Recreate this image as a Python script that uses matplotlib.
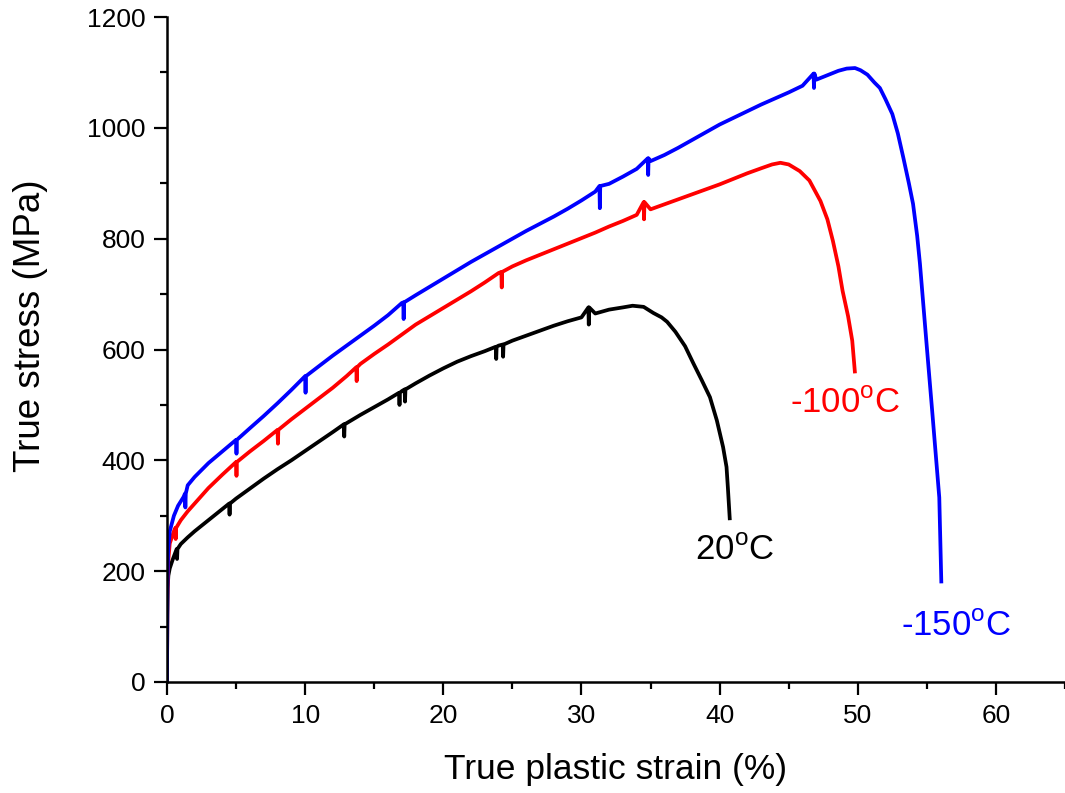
import matplotlib
matplotlib.use("Agg")
import matplotlib.pyplot as plt
from matplotlib.ticker import MultipleLocator

plt.rcParams['font.family'] = ['Liberation Sans', 'DejaVu Sans']
plt.rcParams['mathtext.fontset'] = 'custom'
plt.rcParams['mathtext.rm'] = 'Liberation Sans'

# True stress-strain curves (strain in %, stress in MPa)
strain_20 = [0, 0.02, 0.05, 0.1, 0.2, 0.4, 0.7, 1, 1.5, 2, 2.5, 3, 3.5, 4, 4.5, 5, 6,
             7, 8, 9, 10, 11, 12, 12.8, 14, 15, 16, 17, 18, 19, 20, 21, 22, 23, 24,
             25, 26, 27, 28, 29, 30, 31, 32, 33, 33.7, 34.5, 35.2, 35.8, 36.2, 36.8,
             37.5, 38.1, 38.7, 39.3, 39.8, 40.25, 40.5, 40.6, 40.74]
stress_20 = [0, 120, 170, 192, 205, 220, 240, 249, 261, 272, 282, 292, 302, 312, 322,
             331, 349, 367, 384, 400, 417, 434, 451, 465, 482, 496, 510, 525, 539, 553,
             566, 578, 588, 597, 607, 616, 625, 634, 643, 651, 658, 665, 672, 676, 679,
             677, 666, 658, 650, 632, 606, 575, 545, 514, 472, 424, 388, 350, 292]

strain_m100 = [0, 0.03, 0.08, 0.2, 0.5, 1, 1.5, 2, 3, 4, 5, 6, 7, 8, 9, 10, 11, 12,
               13, 14, 15, 16, 17, 18, 19, 20, 21, 22, 23, 24, 25, 26, 27, 28, 29, 30,
               31, 32, 33, 34, 35, 36, 37, 38, 39, 40, 41, 42, 43, 43.8, 44.4, 45,
               45.8, 46.5, 47.3, 47.8, 48.2, 48.6, 48.9, 49.3, 49.6, 49.8]
stress_m100 = [0, 150, 215, 250, 272, 292, 308, 322, 350, 374, 397, 416, 435, 455, 474,
               493, 512, 531, 552, 574, 592, 609, 627, 645, 660, 675, 690, 705, 721,
               738, 750, 761, 771, 781, 791, 801, 811, 822, 832, 843, 853, 862, 871,
               880, 889, 898, 908, 918, 927, 934, 937, 934, 922, 905, 868, 835, 796,
               750, 706, 660, 616, 557]

strain_m150 = [0, 0.03, 0.08, 0.2, 0.5, 0.8, 1.2, 1.5, 2, 3, 4, 5, 6, 7, 8, 9, 10, 11,
               12, 13, 14, 15, 16, 17, 18, 19, 20, 21, 22, 23, 24, 25, 26, 27, 28, 29,
               30, 31, 32, 33, 34, 35, 36, 37, 38, 39, 40, 41, 42, 43, 44, 45, 46, 47,
               48, 48.6, 49.2, 49.8, 50.2, 50.7, 51.2, 51.6, 52, 52.5, 52.9, 53.3, 53.7,
               54.0, 54.3, 54.5, 55.0, 55.4, 55.9, 56.05]
stress_m150 = [0, 170, 235, 272, 300, 318, 334, 355, 370, 395, 416, 437, 458, 480, 503,
               527, 552, 570, 589, 607, 625, 643, 662, 684, 698, 713, 728, 743, 758,
               772, 786, 800, 814, 827, 840, 854, 869, 885, 899, 912, 926, 940, 951,
               964, 978, 992, 1006, 1018, 1030, 1042, 1053, 1064, 1076, 1087, 1097,
               1103, 1107, 1108, 1104, 1096, 1082, 1072, 1052, 1025, 990, 946, 900,
               863, 805, 755, 604, 485, 333, 178]

# Serrations: (strain, upper stress, lower stress)
serr_20 = [(0.7, 240, 222), (4.5, 322, 302), (12.8, 465, 443), (16.8, 522, 500),
           (17.2, 528, 506), (23.8, 605, 583), (24.3, 609, 587), (30.5, 676, 645)]
serr_m100 = [(0.6, 278, 258), (5.0, 397, 372), (8.0, 455, 430), (13.7, 568, 543),
             (24.2, 740, 712), (34.5, 866, 835)]
serr_m150 = [(1.3, 340, 315), (5.0, 437, 412), (10.0, 552, 522), (17.1, 685, 655),
             (31.3, 895, 855), (34.8, 945, 915), (46.8, 1098, 1072)]

labels = ['20$^{\\rm o}$C', '-100$^{\\rm o}$C', '-150$^{\\rm o}$C']
colors = ['black', '#ff0000', '#0000ff']
label_pos = [(41.1, 238), (49.1, 502), (57.1, 101)]


def with_serrations(xs, ys, serr):
    pts = list(zip(xs, ys))
    for x, hi, lo in serr:
        pts += [(x, hi), (x + 0.03, lo), (x + 0.06, hi)]
    pts.sort(key=lambda p: p[0])
    return [p[0] for p in pts], [p[1] for p in pts]


fig = plt.figure(figsize=(10.65, 7.93), dpi=100)
ax = fig.add_axes([0.1568, 0.140, 0.8432, 0.8385])

curves = [(strain_20, stress_20, serr_20), (strain_m100, stress_m100, serr_m100),
          (strain_m150, stress_m150, serr_m150)]
for (xs, ys, serr), c in zip(curves, colors):
    x, y = with_serrations(xs, ys, serr)
    ax.plot(x, y, color=c, lw=2.7, solid_joinstyle='round', solid_capstyle='butt')

for lab, c, (lx, ly) in zip(labels, colors, label_pos):
    ax.text(lx, ly, lab, color=c, fontsize=25, ha='center', va='center')

ax.set_xlim(0, 65)
ax.set_ylim(0, 1200)
ax.xaxis.set_major_locator(MultipleLocator(10))
ax.xaxis.set_minor_locator(MultipleLocator(5))
ax.yaxis.set_major_locator(MultipleLocator(200))
ax.yaxis.set_minor_locator(MultipleLocator(100))

for s in ['top', 'right']:
    ax.spines[s].set_visible(False)
for s in ['left', 'bottom']:
    ax.spines[s].set_linewidth(1.8)

ax.tick_params(which='major', direction='out', length=9.5, width=1.6, labelsize=19, pad=6)
ax.tick_params(which='minor', direction='out', length=5, width=1.6)

ax.set_xlabel('True plastic strain (%)', fontsize=25.5, labelpad=18)
ax.set_ylabel('True stress (MPa)', fontsize=26.5)
ax.yaxis.set_label_coords(-0.133, 0.535)

fig.savefig('out.png', dpi=100)
